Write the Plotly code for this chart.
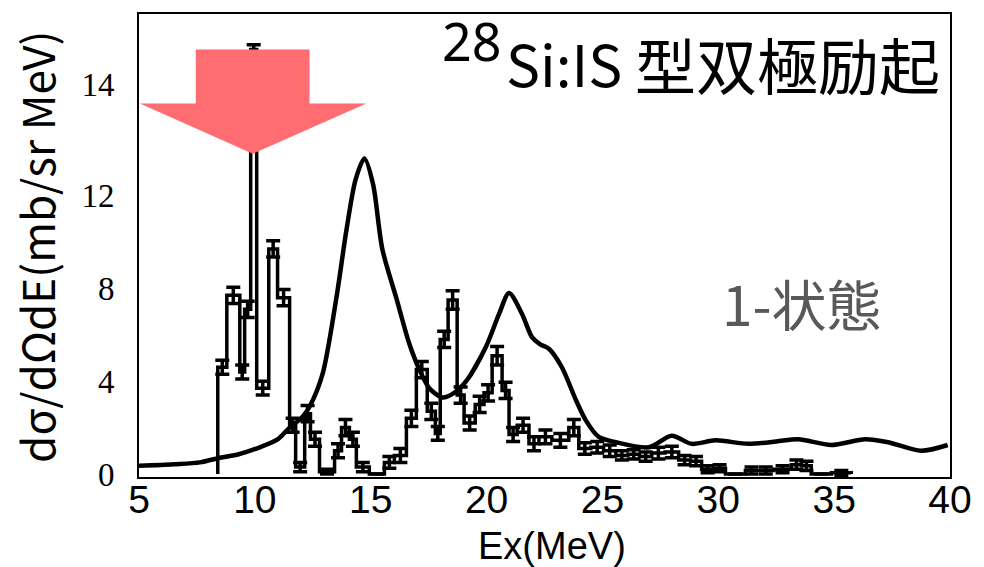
import numpy as np
import plotly.graph_objects as go

# Measured spectrum: bin edges (MeV), cross sections and errors (mb/sr MeV)
bin_edges = [8.40, 8.79, 9.35, 9.56, 9.82, 10.08, 10.60, 10.98, 11.50, 11.76,
             12.15, 12.40, 12.79, 13.44, 13.74, 14.08, 14.38, 14.94, 15.59, 16.02,
             16.54, 16.97, 17.44, 17.79, 18.00, 18.34, 18.73, 19.03, 19.51, 19.89,
             20.24, 20.67, 20.97, 21.32, 21.83, 22.26, 22.82, 23.55, 23.98, 24.50,
             25.05, 25.58, 26.10, 26.60, 27.13, 27.70, 28.29, 28.80, 29.28, 29.80,
             30.31, 31.17, 31.70, 32.40, 33.15, 33.60, 34.01, 34.88, 35.74]
bin_values = [4.6, 7.7, 4.4, 7.1, 18.3, 3.7, 9.7, 7.6, 2.1, 0.3,
              2.6, 1.5, 0.1, 1.0, 2.0, 1.5, 0.3, 0.0, 0.5, 0.8,
              2.4, 4.5, 2.7, 1.75, 5.8, 7.5, 3.4, 2.2, 3.0, 3.5,
              5.1, 3.6, 1.7, 2.1, 1.3, 1.6, 1.45, 2.0, 1.1, 1.15,
              1.0, 0.8, 0.85, 0.75, 0.9, 0.95, 0.6, 0.55, 0.2, 0.25,
              0.0, 0.15, 0.15, 0.2, 0.4, 0.35, 0.0, 0.05]
bin_errors = [0.3, 0.35, 0.3, 0.35, 0.2, 0.3, 0.35, 0.35, 0.3, 0.2,
              0.35, 0.3, 0.1, 0.3, 0.35, 0.3, 0.2, 0.0, 0.25, 0.3,
              0.35, 0.35, 0.35, 0.3, 0.35, 0.4, 0.35, 0.3, 0.35, 0.35,
              0.4, 0.35, 0.3, 0.3, 0.3, 0.3, 0.3, 0.35, 0.25, 0.25,
              0.25, 0.2, 0.2, 0.2, 0.25, 0.25, 0.2, 0.2, 0.15, 0.15,
              0.0, 0.15, 0.15, 0.15, 0.2, 0.2, 0.0, 0.1]

# Calculated IS dipole strength distribution
curve_x = [5.0, 6.5, 7.63, 8.49, 9.3, 10.21, 11.0, 11.5, 12.0, 12.36,
           12.92, 13.52, 13.95, 14.35, 14.73, 15.1, 15.5, 16.1, 16.67, 17.1,
           17.53, 18.09, 18.6, 19.12, 19.98, 20.54, 20.97, 21.53, 21.96, 22.3,
           22.69, 23.25, 23.85, 24.29, 24.84, 25.58, 27.0, 27.99, 28.85, 29.88,
           31.3, 32.5, 33.45, 34.87, 36.34, 37.33, 38.75, 39.9]
curve_y = [0.35, 0.42, 0.5, 0.7, 0.85, 1.15, 1.5, 2.0, 2.4, 2.9,
           4.3, 7.6, 10.5, 12.7, 13.6, 12.5, 9.7, 7.6, 5.6, 4.5,
           3.7, 3.3, 3.5, 4.0, 5.5, 6.9, 7.8, 6.9, 5.9, 5.6,
           5.4, 4.6, 3.2, 2.3, 1.6, 1.37, 1.15, 1.65, 1.3, 1.45,
           1.3, 1.4, 1.5, 1.25, 1.5, 1.37, 1.0, 1.25]

x_ticks = [5, 10, 15, 20, 25, 30, 35, 40]
y_tick_vals = [0, 4, 8, 12, 16.8]
y_tick_text = ["0", "4", "8", "12", "14"]

edges = np.array(bin_edges)
vals = np.array(bin_values)
centers = 0.5 * (edges[:-1] + edges[1:])

# step outline closed down to the baseline at both ends
step_x = np.concatenate([[edges[0]], edges])
step_y = np.concatenate([[0.0], vals, [0.0]])

fig = go.Figure()

fig.add_trace(go.Scatter(
    x=curve_x, y=curve_y, mode="lines",
    line=dict(color="black", width=4.5, shape="spline", smoothing=0.8),
    hoverinfo="skip", showlegend=False))

fig.add_trace(go.Scatter(
    x=step_x, y=step_y, mode="lines",
    line=dict(color="black", width=3.5, shape="hv"),
    showlegend=False))

fig.add_trace(go.Scatter(
    x=centers, y=vals, mode="markers",
    marker=dict(size=1, color="black"),
    error_y=dict(type="data", array=bin_errors, color="black",
                 thickness=3.5, width=7),
    showlegend=False))

# pointer arrow at the low-lying 1- state
ax_l, ax_r = 5.04, 14.81
sh_l, sh_r = 7.45, 12.36
tip_x, tip_y = 9.91, 13.8
base_y, top_y = 15.97, 18.3
arrow_path = (f"M {sh_l} {top_y} L {sh_r} {top_y} L {sh_r} {base_y} "
              f"L {ax_r} {base_y} L {tip_x} {tip_y} L {ax_l} {base_y} "
              f"L {sh_l} {base_y} Z")
fig.add_shape(type="path", path=arrow_path, xref="x", yref="y",
              fillcolor="#FF6D72", line=dict(width=0), layer="above")

cjk = "Noto Sans CJK JP"
latin = "Noto Sans"
axis_font = "Liberation Sans"

# title: mass number raised in front of the element symbol
fig.add_annotation(text="28", xref="paper", yref="paper", x=0.450, y=0.862,
                   xanchor="right", yanchor="bottom", showarrow=False,
                   font=dict(family=latin, size=52, color="black"))
fig.add_annotation(text="Si:IS", xref="paper", yref="paper", x=0.450, y=0.897,
                   xanchor="left", yanchor="middle", showarrow=False,
                   font=dict(family=cjk, size=57, color="black"))
fig.add_annotation(text="型双極励起", xref="paper", yref="paper",
                   x=0.99, y=0.894, xanchor="right", yanchor="middle",
                   showarrow=False, font=dict(family=cjk, size=61, color="black"))
fig.add_annotation(text="1-状態", xref="paper", yref="paper",
                   x=0.818, y=0.378, xanchor="center", yanchor="middle",
                   showarrow=False, font=dict(family=cjk, size=55, color="#595959"))
fig.add_annotation(text="dσ/dΩdE(mb/sr MeV)", xref="paper", yref="paper",
                   x=-0.127, y=0.497, xanchor="center", yanchor="middle",
                   textangle=-90, showarrow=False,
                   font=dict(family=cjk, size=44, color="black"))
fig.add_annotation(text="Ex(MeV)", xref="paper", yref="paper",
                   x=0.509, y=-0.148, xanchor="center", yanchor="middle",
                   showarrow=False, font=dict(family=axis_font, size=38, color="black"))

fig.update_xaxes(range=[5, 40], tickvals=x_ticks, ticks="", showgrid=False,
                 zeroline=False, showline=True, linecolor="black", linewidth=2,
                 mirror=True, ticklabelstandoff=-13,
                 tickfont=dict(family=axis_font, size=39, color="black"))
fig.update_yaxes(range=[-0.13, 19.83], tickvals=y_tick_vals, ticktext=y_tick_text,
                 ticks="", showgrid=False, zeroline=False, showline=True,
                 linecolor="black", linewidth=2, mirror=True,
                 ticklabelstandoff=16,
                 tickfont=dict(family="Liberation Serif", size=33, color="black"))

fig.update_layout(width=984, height=567, margin=dict(l=139, r=32, t=12, b=90),
                  plot_bgcolor="white", paper_bgcolor="white", showlegend=False)

fig.write_html("out.html")
